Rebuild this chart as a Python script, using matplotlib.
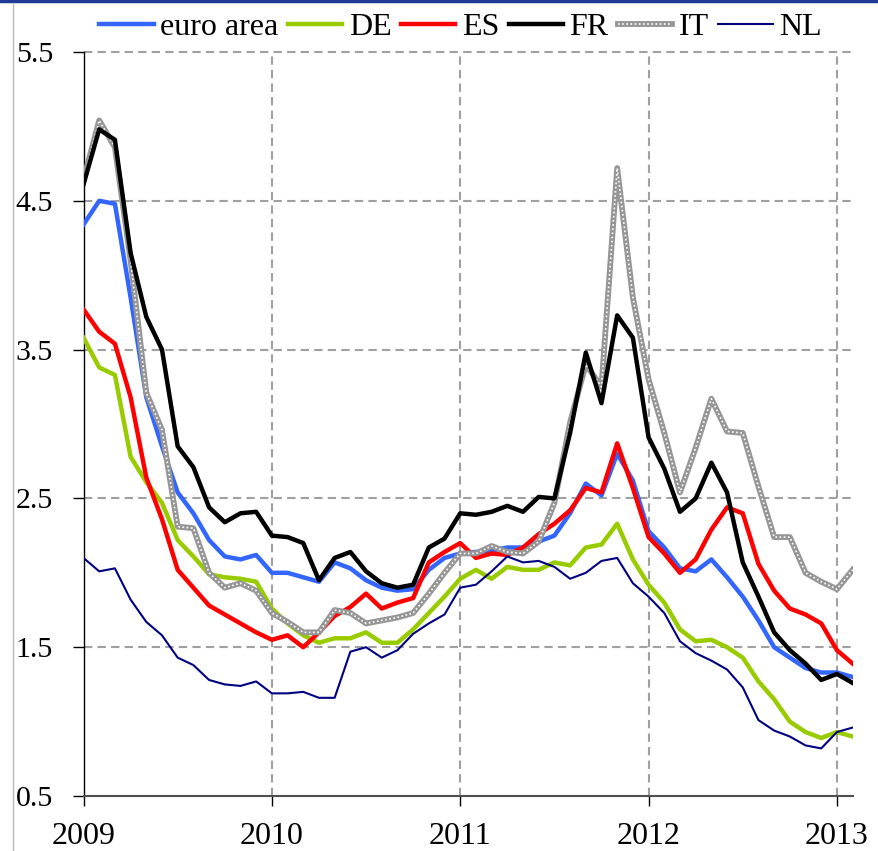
import numpy as np
import matplotlib.pyplot as plt
from matplotlib.lines import Line2D

# monthly, Jan 2009 - Feb 2013
months = 2009 + np.arange(50) / 12.0

euro_area = [4.34, 4.50, 4.48, 3.85, 3.18, 2.85, 2.54, 2.40, 2.22, 2.11,
             2.09, 2.12, 2.00, 2.00, 1.97, 1.94, 2.07, 2.03, 1.95, 1.90,
             1.88, 1.89, 2.02, 2.10, 2.13, 2.14, 2.15, 2.17, 2.17, 2.21,
             2.25, 2.40, 2.60, 2.52, 2.80, 2.62, 2.28, 2.17, 2.03, 2.01,
             2.09, 1.97, 1.84, 1.68, 1.50, 1.43, 1.36, 1.33, 1.33, 1.30]
de = [3.58, 3.38, 3.33, 2.78, 2.61, 2.47, 2.22, 2.11, 1.99, 1.97,
      1.96, 1.94, 1.76, 1.66, 1.58, 1.53, 1.56, 1.56, 1.60, 1.53,
      1.53, 1.62, 1.73, 1.84, 1.96, 2.02, 1.96, 2.04, 2.02, 2.02,
      2.07, 2.05, 2.17, 2.19, 2.33, 2.09, 1.92, 1.80, 1.62, 1.54,
      1.55, 1.50, 1.43, 1.27, 1.15, 1.00, 0.93, 0.89, 0.93, 0.90]
es = [3.77, 3.62, 3.54, 3.18, 2.64, 2.36, 2.02, 1.90, 1.78, 1.72,
      1.66, 1.60, 1.55, 1.58, 1.50, 1.60, 1.71, 1.77, 1.86, 1.76,
      1.80, 1.83, 2.07, 2.14, 2.20, 2.10, 2.13, 2.12, 2.17, 2.26,
      2.33, 2.42, 2.57, 2.54, 2.87, 2.57, 2.24, 2.13, 2.00, 2.09,
      2.29, 2.44, 2.40, 2.06, 1.88, 1.76, 1.72, 1.66, 1.48, 1.39]
fr = [4.61, 4.98, 4.91, 4.15, 3.72, 3.50, 2.85, 2.71, 2.44, 2.34,
      2.40, 2.41, 2.25, 2.24, 2.20, 1.95, 2.10, 2.14, 2.01, 1.93,
      1.90, 1.92, 2.17, 2.23, 2.40, 2.39, 2.41, 2.45, 2.41, 2.51,
      2.50, 2.94, 3.48, 3.14, 3.73, 3.58, 2.91, 2.70, 2.41, 2.50,
      2.74, 2.54, 2.07, 1.84, 1.60, 1.48, 1.39, 1.28, 1.32, 1.26]
it = [4.64, 5.04, 4.86, 4.10, 3.21, 2.96, 2.31, 2.30, 2.00, 1.90,
      1.93, 1.88, 1.73, 1.67, 1.60, 1.60, 1.75, 1.73, 1.66, 1.68,
      1.70, 1.73, 1.86, 2.00, 2.13, 2.13, 2.18, 2.14, 2.13, 2.21,
      2.47, 3.01, 3.40, 3.25, 4.72, 3.85, 3.30, 2.94, 2.54, 2.84,
      3.17, 2.95, 2.94, 2.58, 2.24, 2.24, 2.00, 1.94, 1.89, 2.02]
nl = [2.10, 2.01, 2.03, 1.82, 1.67, 1.58, 1.43, 1.38, 1.28, 1.25,
      1.24, 1.27, 1.19, 1.19, 1.20, 1.16, 1.16, 1.47, 1.50, 1.43,
      1.48, 1.59, 1.66, 1.72, 1.90, 1.92, 2.01, 2.11, 2.07, 2.08,
      2.04, 1.96, 2.00, 2.08, 2.10, 1.93, 1.84, 1.73, 1.54, 1.46,
      1.41, 1.35, 1.23, 1.01, 0.94, 0.90, 0.84, 0.82, 0.93, 0.96]

plt.rcParams['font.family'] = ['Liberation Serif', 'DejaVu Serif']

fig = plt.figure(figsize=(8.79, 8.51), dpi=100)
ax = fig.add_axes([0.095, 0.0646, 0.875, 0.8743])

# lines
h_eu, = ax.plot(months, euro_area, color='#3366FF', lw=3.2, zorder=3)
h_de, = ax.plot(months, de, color='#99CC00', lw=3.2, zorder=3)
h_es, = ax.plot(months, es, color='#FF0000', lw=3.2, zorder=4)
h_it, = ax.plot(months, it, color='#969696', lw=4.2, zorder=4)
h_it2, = ax.plot(months, it, color='white', lw=1.2, ls=(0, (1, 1.5)), zorder=4)
h_fr, = ax.plot(months, fr, color='black', lw=3.2, zorder=5)
h_nl, = ax.plot(months, nl, color='#000080', lw=1.5, zorder=6)

ax.set_xlim(2009, months[-1])
ax.set_ylim(0.5, 5.5)
ax.set_yticks([0.5, 1.5, 2.5, 3.5, 4.5, 5.5])
ax.set_yticklabels(['0.5', '1.5', '2.5', '3.5', '4.5', '5.5'])
ax.set_xticks([2009, 2010, 2011, 2012, 2013])
ax.set_xticklabels(['2009', '2010', '2011', '2012', '2013'])

# grid
for y in [1.5, 2.5, 3.5, 4.5, 5.5]:
    ax.axhline(y, color='#A0A0A0', lw=1.5, ls=(0, (4, 2.5)), zorder=1, clip_on=False)
for x in [2010, 2011, 2012, 2013]:
    ax.axvline(x, color='#A0A0A0', lw=1.5, ls=(0, (4, 2.5)), zorder=1)

ax.spines['top'].set_visible(False)
ax.spines['right'].set_visible(False)
ax.spines['left'].set_color('black')
ax.spines['left'].set_linewidth(1.0)
ax.spines['bottom'].set_color('#505050')
ax.spines['bottom'].set_linewidth(1.5)
ax.tick_params(axis='y', direction='out', length=8, width=1, pad=14, labelsize=21.5)
ax.tick_params(axis='x', direction='out', length=7, width=1, pad=12, labelsize=23)

fig.legend([h_eu, h_de, h_es, h_fr, (h_it, h_it2), h_nl],
           ['euro area', 'DE', 'ES', 'FR', 'IT', 'NL'],
           loc='upper center', bbox_to_anchor=(0.524, 1.008), ncol=6,
           frameon=False, fontsize=23, handlelength=1.7, handletextpad=0.2,
           columnspacing=0.3, borderaxespad=0.2)

# frame decorations
fig.add_artist(Line2D([0, 1], [0.9985, 0.9985], transform=fig.transFigure,
                      color='#1F3A93', lw=2.5))
fig.add_artist(Line2D([13 / 879, 13 / 879], [0, 0.996], transform=fig.transFigure,
                      color='#BBBBBB', lw=1))

fig.savefig('out.png', dpi=100)
